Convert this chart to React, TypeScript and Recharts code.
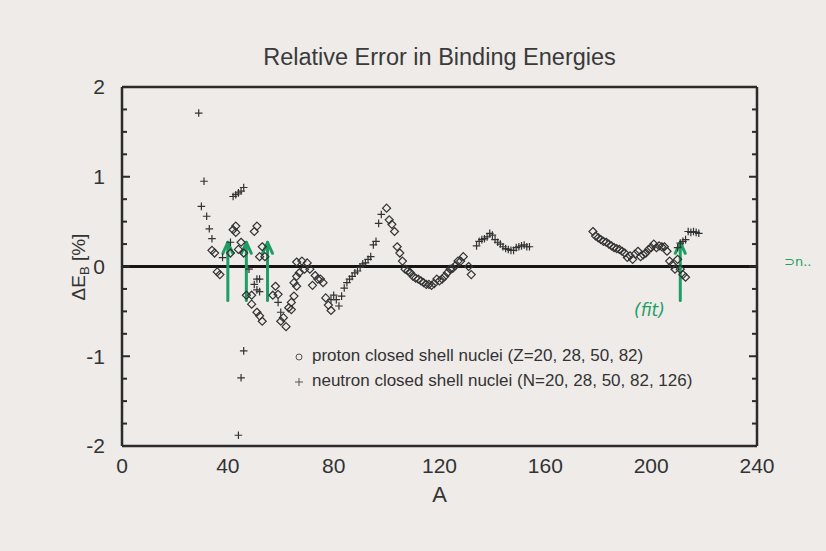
import React from "react";
import { ScatterChart, Scatter, XAxis, YAxis, ReferenceLine, Legend } from "recharts";

// mass number A and relative error (%) for proton closed shells (Z=20, 28, 50, 82)
const protonA = [
  34, 35, 36, 37, 41, 42, 43, 43, 44, 45, 46, 47, 49, 49, 50, 51, 51, 52, 52, 53, 53, 54,
  57, 58, 59, 60, 61, 62, 63, 64, 64, 65, 65, 66, 66, 66, 67, 68, 69, 70, 71, 72, 73, 74, 75, 76, 77, 78, 79,
  100, 101, 102, 103, 104, 105, 106, 107, 108, 109, 110, 111, 112, 113, 114, 115, 116, 117, 118, 119, 120,
  121, 122, 123, 124, 125, 126, 127, 128, 129, 131, 132,
  178, 179, 180, 181, 182, 183, 184, 185, 186, 187, 188, 189, 190, 191, 192, 193, 194, 195,
  196, 197, 198, 199, 200, 201, 202, 203, 204, 205, 206, 207, 208, 209, 210, 211, 212, 213,
];
const protonErr = [
  0.18, 0.15, -0.06, -0.09, 0.15, 0.41, 0.45, 0.38, 0.19, 0.27, 0.15, -0.32, -0.42, -0.32, 0.39, 0.45, -0.51, 0.11, -0.55, 0.22, -0.61, 0.11,
  -0.32, -0.22, -0.31, -0.61, -0.57, -0.67, -0.46, -0.48, -0.4, -0.33, -0.18, -0.22, -0.11, 0.05, -0.07, 0.06, -0.03, 0.04, -0.03, -0.21, -0.1, -0.14, -0.14, -0.18, -0.35, -0.43, -0.49,
  0.65, 0.52, 0.47, 0.39, 0.22, 0.15, 0.06, -0.03, -0.05, -0.07, -0.11, -0.13, -0.14, -0.16, -0.18, -0.2, -0.2, -0.21, -0.19, -0.14, -0.16,
  -0.14, -0.11, -0.07, -0.03, -0.02, 0.01, 0.06, 0.06, 0.11, 0.0, -0.09,
  0.39, 0.34, 0.32, 0.3, 0.28, 0.27, 0.25, 0.23, 0.21, 0.2, 0.19, 0.17, 0.15, 0.1, 0.12, 0.08, 0.14, 0.17,
  0.11, 0.13, 0.15, 0.19, 0.21, 0.25, 0.21, 0.23, 0.22, 0.22, 0.17, 0.06, 0.02, -0.03, 0.08, -0.03, -0.09, -0.12,
];

// neutron closed shells (N=20, 28, 50, 82, 126)
const neutronA = [
  29, 30, 31, 32, 33, 34, 38, 41, 42, 43, 44, 45, 46, 44, 45, 46, 48, 50, 51, 52, 51, 52, 59, 60,
  79, 80, 81, 82, 83, 84, 85, 86, 87, 88, 89, 90, 91, 92, 93, 94, 95, 96, 97, 98,
  134, 135, 136, 137, 138, 139, 140, 141, 142, 143, 144, 145, 146, 147, 148, 149, 150, 151, 152, 153, 154,
  210, 211, 212, 213, 214, 215, 216, 217, 218,
];
const neutronErr = [
  1.71, 0.67, 0.95, 0.56, 0.42, 0.31, 0.1, 0.27, 0.78, 0.8, 0.82, 0.84, 0.88, -1.88, -1.24, -0.94, -0.03, -0.2, -0.14, -0.14, -0.26, -0.28, -0.4, -0.51,
  -0.37, -0.32, -0.37, -0.44, -0.33, -0.24, -0.18, -0.14, -0.11, -0.07, -0.05, -0.01, 0.03, 0.04, 0.08, 0.11, 0.24, 0.28, 0.48, 0.58,
  0.23, 0.28, 0.3, 0.31, 0.33, 0.37, 0.35, 0.3, 0.27, 0.25, 0.22, 0.2, 0.19, 0.18, 0.18, 0.21, 0.22, 0.23, 0.24, 0.22, 0.22,
  0.21, 0.26, 0.28, 0.3, 0.39, 0.38, 0.39, 0.38, 0.37,
];

const xTicks = [0, 40, 80, 120, 160, 200, 240];
const xMinorTicks = [10, 20, 30, 50, 60, 70, 90, 100, 110, 130, 140, 150, 170, 180, 190, 210, 220, 230];
const yTicks = [-2, -1, 0, 1, 2];
const yMinorTicks = [-1.75, -1.5, -1.25, -0.75, -0.5, -0.25, 0.25, 0.5, 0.75, 1.25, 1.5, 1.75];

// hand-drawn arrows marking the nuclei used in the fit
const fitArrowA = [40, 47, 55, 211];

const legendItems = [
  { key: "p", label: "proton closed shell nuclei (Z=20, 28, 50, 82)" },
  { key: "n", label: "neutron closed shell nuclei (N=20, 28, 50, 82, 126)" },
];

const protonData = protonA.map((a, i) => ({ a, err: protonErr[i] }));
const neutronData = neutronA.map((a, i) => ({ a, err: neutronErr[i] }));

const INK = "#2b2b2b";
const MARK = "#333";
const PEN = "#1f9e64";
const FONT = "'Liberation Sans', Arial, Helvetica, sans-serif";

const DiamondMark = (props: any) => {
  const { cx, cy } = props;
  const r = 4;
  return (
    <path
      d={`M${cx},${cy - r}L${cx + r},${cy}L${cx},${cy + r}L${cx - r},${cy}Z`}
      fill="none"
      stroke={MARK}
      strokeWidth={1.2}
    />
  );
};

const PlusMark = (props: any) => {
  const { cx, cy } = props;
  const r = 3.8;
  return (
    <path
      d={`M${cx - r},${cy}H${cx + r}M${cx},${cy - r}V${cy + r}`}
      stroke={MARK}
      strokeWidth={1.2}
    />
  );
};

const PenArrow = (props: any) => {
  const { x1, y1, x2, y2 } = props;
  return (
    <g stroke={PEN} strokeWidth={3} fill="none" strokeLinecap="round" strokeLinejoin="round">
      <line x1={x1} y1={y1} x2={x2} y2={y2} />
      <path d={`M${x2 - 5},${y2 + 11}L${x2},${y2}L${x2 + 5},${y2 + 11}`} />
    </g>
  );
};

// frame axes only carry tick marks, no labels
const NoLabel = () => <g />;

const LegendBox = () => (
  <div style={{ fontFamily: FONT, fontSize: 17, color: "#333", lineHeight: "25px" }}>
    {legendItems.map((it) => (
      <div key={it.key} style={{ display: "flex", alignItems: "center", whiteSpace: "nowrap" }}>
        <svg width={14} height={14} style={{ marginRight: 6 }}>
          {it.key === "p" ? (
            <circle cx={7} cy={8} r={3} fill="none" stroke="#555" strokeWidth={1} />
          ) : (
            <path d="M3,8H11M7,4V12" stroke="#555" strokeWidth={1} />
          )}
        </svg>
        <span>{it.label}</span>
      </div>
    ))}
  </div>
);

const frameAxis = { type: "number" as const, allowDataOverflow: true, tick: NoLabel, interval: 0 as const };

export default function App() {
  return (
    <div
      style={{
        position: "absolute",
        left: 0,
        top: 0,
        width: 826,
        height: 551,
        background: "#eeebe9",
        fontFamily: FONT,
        overflow: "hidden",
      }}
    >
      <div
        style={{
          position: "absolute",
          left: 0,
          width: 879,
          top: 44,
          textAlign: "center",
          fontSize: 23.5,
          color: "#3a3a3a",
        }}
      >
        Relative Error in Binding Energies
      </div>

      <div
        style={{
          position: "absolute",
          left: 80,
          top: 267,
          transform: "translate(-50%, -50%) rotate(-90deg)",
          fontSize: 19,
          color: "#333",
          whiteSpace: "nowrap",
        }}
      >
        ΔE<sub style={{ fontSize: 13 }}>B</sub> [%]
      </div>

      <div
        style={{
          position: "absolute",
          left: 0,
          width: 879,
          top: 482,
          textAlign: "center",
          fontSize: 22,
          color: "#333",
        }}
      >
        A
      </div>

      <div
        style={{
          position: "absolute",
          left: 634,
          top: 300,
          fontSize: 17,
          fontStyle: "italic",
          color: PEN,
          fontFamily: "'DejaVu Sans', sans-serif",
        }}
      >
        (fit)
      </div>
      <div
        style={{
          position: "absolute",
          left: 784,
          top: 254,
          fontSize: 13,
          color: PEN,
          fontFamily: "'DejaVu Sans', sans-serif",
        }}
      >
        ⊃n..
      </div>

      <div style={{ position: "absolute", left: 0, top: 0 }}>
        <ScatterChart width={826} height={551} margin={{ top: 87, right: 69, bottom: 65, left: 62 }}>
          <XAxis
            xAxisId="main"
            dataKey="a"
            type="number"
            domain={[0, 240]}
            ticks={xTicks}
            allowDataOverflow
            height={40}
            tickLine={false}
            tickSize={0}
            tickMargin={12}
            axisLine={{ stroke: INK, strokeWidth: 2.5 }}
            tick={{ fontSize: 21, fill: "#333" }}
          />
          {/* inward tick marks on all four sides of the frame */}
          <XAxis {...frameAxis} xAxisId="bMaj" orientation="bottom" mirror height={1} domain={[0, 240]} ticks={xTicks} tickSize={8} axisLine={false} tickLine={{ stroke: INK, strokeWidth: 2 }} />
          <XAxis {...frameAxis} xAxisId="bMin" orientation="bottom" mirror height={1} domain={[0, 240]} ticks={xMinorTicks} tickSize={4} axisLine={false} tickLine={{ stroke: INK, strokeWidth: 2 }} />
          <XAxis {...frameAxis} xAxisId="tMaj" orientation="top" mirror height={1} domain={[0, 240]} ticks={xTicks} tickSize={8} axisLine={{ stroke: INK, strokeWidth: 2.5 }} tickLine={{ stroke: INK, strokeWidth: 2 }} />
          <XAxis {...frameAxis} xAxisId="tMin" orientation="top" mirror height={1} domain={[0, 240]} ticks={xMinorTicks} tickSize={4} axisLine={false} tickLine={{ stroke: INK, strokeWidth: 2 }} />

          <YAxis
            yAxisId="main"
            dataKey="err"
            type="number"
            domain={[-2, 2]}
            ticks={yTicks}
            allowDataOverflow
            width={60}
            tickLine={false}
            tickSize={0}
            tickMargin={17}
            axisLine={{ stroke: INK, strokeWidth: 2.5 }}
            tick={{ fontSize: 21, fill: "#333" }}
          />
          <YAxis {...frameAxis} yAxisId="lMaj" orientation="left" mirror width={1} domain={[-2, 2]} ticks={yTicks} tickSize={8} axisLine={false} tickLine={{ stroke: INK, strokeWidth: 2 }} />
          <YAxis {...frameAxis} yAxisId="lMin" orientation="left" mirror width={1} domain={[-2, 2]} ticks={yMinorTicks} tickSize={4} axisLine={false} tickLine={{ stroke: INK, strokeWidth: 2 }} />
          <YAxis {...frameAxis} yAxisId="rMaj" orientation="right" mirror width={1} domain={[-2, 2]} ticks={yTicks} tickSize={8} axisLine={{ stroke: INK, strokeWidth: 2.5 }} tickLine={{ stroke: INK, strokeWidth: 2 }} />
          <YAxis {...frameAxis} yAxisId="rMin" orientation="right" mirror width={1} domain={[-2, 2]} ticks={yMinorTicks} tickSize={4} axisLine={false} tickLine={{ stroke: INK, strokeWidth: 2 }} />

          <ReferenceLine xAxisId="main" yAxisId="main" y={0} stroke="#151515" strokeWidth={3} />

          <Scatter
            name="proton"
            xAxisId="main"
            yAxisId="main"
            data={protonData}
            shape={DiamondMark}
            isAnimationActive={false}
          />
          <Scatter
            name="neutron"
            xAxisId="main"
            yAxisId="main"
            data={neutronData}
            shape={PlusMark}
            isAnimationActive={false}
          />

          {fitArrowA.map((a) => (
            <ReferenceLine
              key={a}
              xAxisId="main"
              yAxisId="main"
              segment={[
                { x: a, y: -0.38 },
                { x: a, y: 0.27 },
              ]}
              shape={PenArrow}
            />
          ))}

          <Legend
            layout="vertical"
            align="center"
            verticalAlign="middle"
            content={LegendBox}
            wrapperStyle={{ left: 292, top: 343, width: "auto", height: "auto" }}
          />
        </ScatterChart>
      </div>
    </div>
  );
}
